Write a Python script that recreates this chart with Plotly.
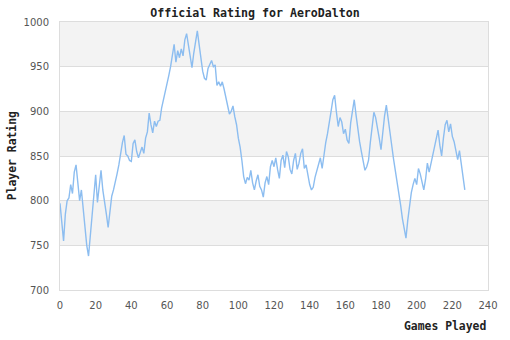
import plotly.graph_objects as go

games = list(range(0, 228))
rating = [
    797, 775, 755, 785, 800, 803, 818, 808, 832, 840,
    815, 800, 812, 790, 775, 750, 738, 760, 785, 805,
    829, 798, 815, 834, 812, 800, 785, 770, 790, 805,
    812, 820, 830, 840, 855, 865, 873, 852, 850, 845,
    844, 864, 868, 855, 848, 855, 860, 853, 870, 877,
    898, 885, 876, 889, 883, 889, 890, 904, 913, 920,
    928, 940, 950, 962, 975, 955, 968, 960, 970, 962,
    980, 987, 975, 962, 949, 965, 980, 990, 975, 958,
    945, 937, 935, 948, 952, 957, 950, 952, 929, 933,
    928, 933, 925, 916, 908, 897, 900, 906, 894, 885,
    870, 860, 845, 827, 819, 826, 823, 834, 820, 812,
    822, 829, 816, 812, 804, 820, 827, 818, 838, 845,
    838, 848, 835, 825, 845, 851, 837, 855, 849, 835,
    830, 845, 853, 835, 842, 853, 858, 836, 840, 828,
    818, 812, 815, 826, 834, 842, 848, 836, 853, 865,
    875, 890, 900, 913, 918, 899, 883, 893, 888, 875,
    880, 868, 864, 887, 900, 913, 896, 880, 866, 855,
    845, 834, 838, 845, 865, 885, 899, 893, 883, 870,
    857, 881, 895, 907, 890, 875, 862, 847, 835, 821,
    808, 795, 780, 768, 758, 778, 795, 809, 818, 825,
    818, 836, 830, 820, 812, 824, 842, 832, 842, 850,
    859, 870, 879, 862, 850, 870, 885, 890, 877, 886,
    872, 866, 855, 846, 856, 840, 827, 812,
]

title_text = "Official Rating for AeroDalton"
x_title = "Games Played"
y_title = "Player Rating"
band_edges = [(950, 1000), (850, 900), (750, 800)]

fig = go.Figure()
fig.add_trace(go.Scatter(
    x=games, y=rating, mode="lines",
    line=dict(color="#8cbdf0", width=1.4),
    hoverinfo="skip", showlegend=False,
))

for lo, hi in band_edges:
    fig.add_shape(type="rect", xref="paper", yref="y", x0=0, x1=1, y0=lo, y1=hi,
                  fillcolor="#f3f3f3", line=dict(width=0), layer="below")

mono = "DejaVu Sans Mono"
fig.update_layout(
    width=510, height=340,
    margin=dict(l=60, r=20, t=22, b=50),
    paper_bgcolor="white", plot_bgcolor="white",
    title=dict(text="<b>" + title_text + "</b>", x=0.5, xref="container", xanchor="center",
               y=1 - 13 / 340, yref="container", yanchor="middle",
               font=dict(family=mono, size=11.6, color="#222")),
    xaxis=dict(range=[0, 240], dtick=20, tick0=0, showgrid=False, zeroline=False,
               showline=True, linecolor="#dddddd", linewidth=1, mirror=True,
               ticks="", tickfont=dict(family="DejaVu Sans", size=10, color="#555"),
               ticklabelstandoff=6),
    yaxis=dict(range=[700, 1000], dtick=50, tick0=700, showgrid=True, gridcolor="#dddddd",
               gridwidth=1, zeroline=False, showline=True, linecolor="#dddddd", linewidth=1,
               mirror=True, ticks="", tickfont=dict(family="DejaVu Sans", size=10, color="#555"),
               ticklabelstandoff=8),
    annotations=[
        dict(text="<b>" + x_title + "</b>", xref="paper", yref="paper", x=1, y=-36 / 268,
             xanchor="right", yanchor="middle", showarrow=False,
             font=dict(family=mono, size=11.4, color="#222")),
        dict(text="<b>" + y_title + "</b>", xref="paper", yref="paper", x=-48 / 430, y=0.5,
             xanchor="center", yanchor="middle", textangle=-90, showarrow=False,
             font=dict(family=mono, size=11.4, color="#222")),
    ],
)

fig.write_html("out.html")
